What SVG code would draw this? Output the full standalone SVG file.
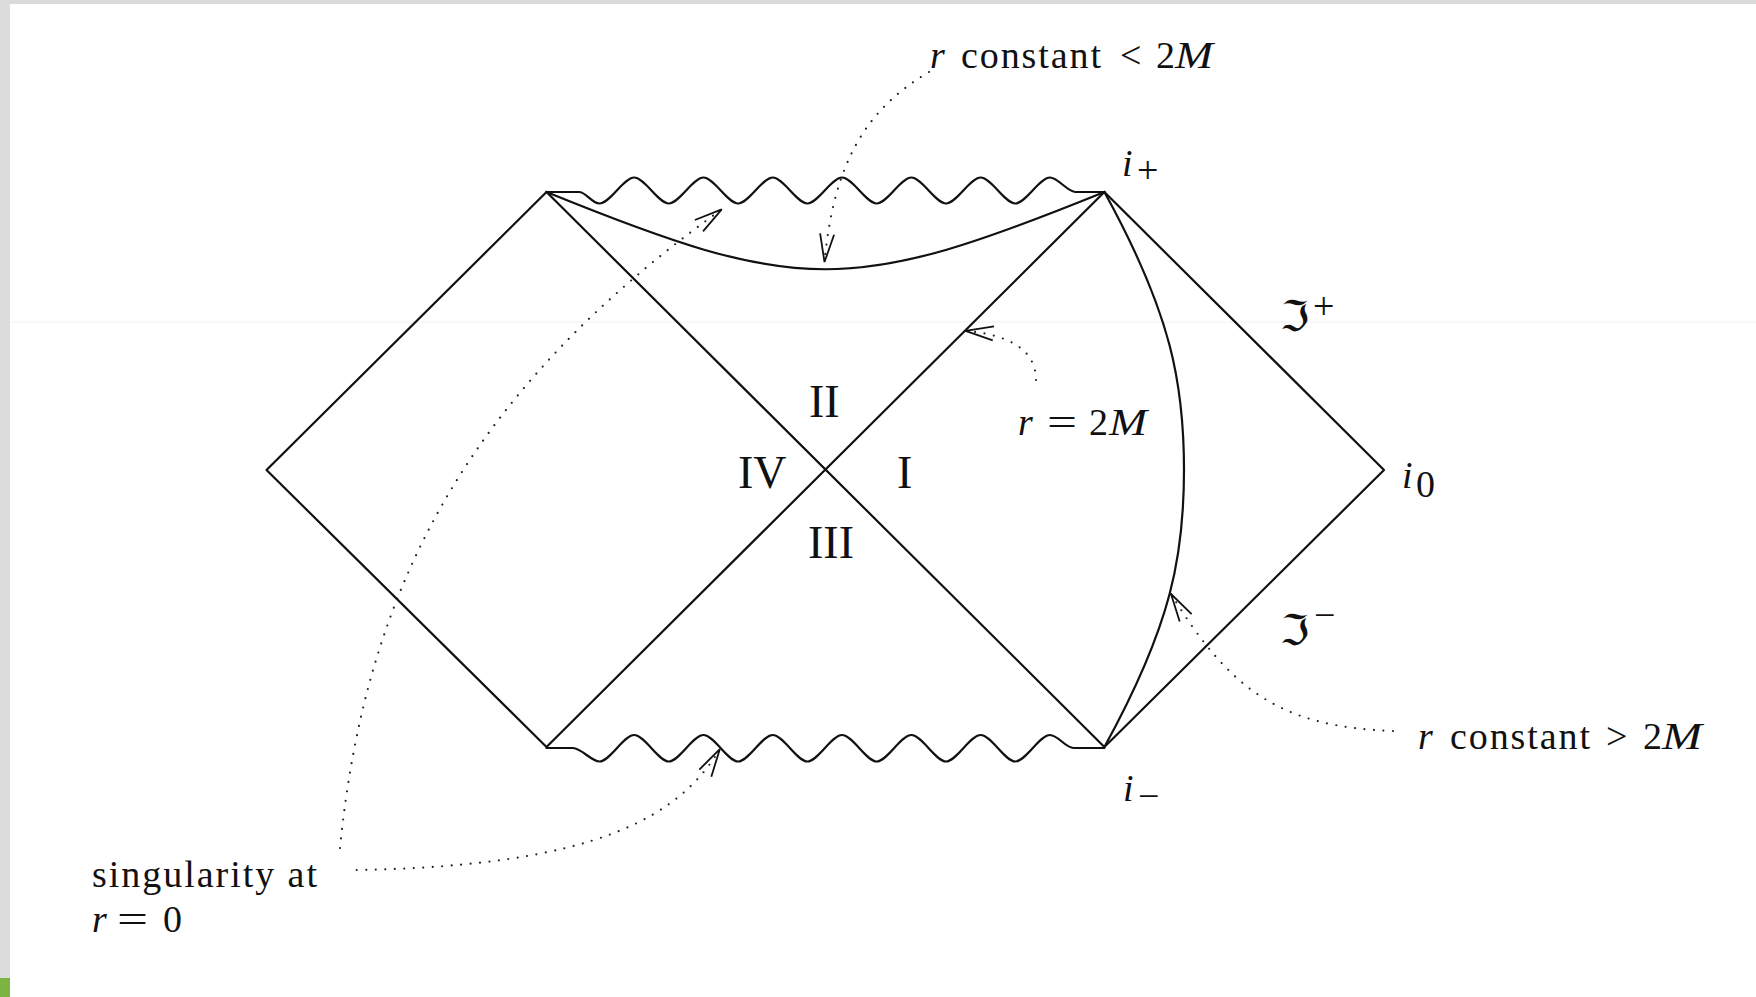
<svg xmlns="http://www.w3.org/2000/svg" width="1756" height="997" viewBox="0 0 1756 997">
<style>
.ln{fill:none;stroke:#111;stroke-width:2.2;stroke-linejoin:round;stroke-linecap:round}
.dot{fill:none;stroke:#222;stroke-width:2.2;stroke-dasharray:0 9.5;stroke-linecap:round}
.t{font-family:"Liberation Serif","Times New Roman",serif;font-size:38px;fill:#111}
.it{font-style:italic}
.big{font-family:"Liberation Serif","Times New Roman",serif;font-size:46px;fill:#111}
.frak{font-family:"DejaVu Serif","DejaVu Sans",serif;font-size:42px;fill:#111}
</style>
<defs>
<marker id="arr" viewBox="-31 -10 34 20" refX="0" refY="0" markerWidth="34" markerHeight="20" markerUnits="userSpaceOnUse" orient="auto">
<path d="M-28,-7 L0,0 L-28,7" fill="none" stroke="#111" stroke-width="1.8" stroke-linejoin="miter"/>
</marker>
</defs>
<rect width="1756" height="997" fill="#fff"/>
<g id="screen-frame">
<rect x="0" y="0" width="1756" height="4" fill="#dadada"/>
<rect x="0" y="0" width="10" height="978" fill="#dcdcdc"/>
<rect x="0" y="978" width="10" height="19" fill="#7cb342"/>
<line x1="10" y1="322" x2="1756" y2="322" stroke="#f0f0f0" stroke-width="1"/>
</g>
<g id="penrose-diagram">
<path class="ln" d="M266.5,470 L546.5,192 M546.5,192 L1104.4,747 M546.5,747 L1104.4,192 M1104.4,192 L1384,470 L1104.4,747 M266.5,470 L546.5,747"/>
<path id="singularity-top" class="ln" d="M546.5,192 H579 c7,0 13,11.5 20.5,11.5 c10.4,0 24.25,-26 34.65,-26 c10.4,0 24.25,26 34.65,26 c10.4,0 24.25,-26 34.65,-26 c10.4,0 24.25,26 34.65,26 c10.4,0 24.25,-26 34.65,-26 c10.4,0 24.25,26 34.65,26 c10.4,0 24.25,-26 34.65,-26 c10.4,0 24.25,26 34.65,26 c10.4,0 24.25,-26 34.65,-26 c10.4,0 24.25,26 34.65,26 c10.4,0 24.25,-26 34.65,-26 c10.4,0 24.25,26 34.65,26 c10.4,0 24.25,-26 34.65,-26 c8,0 17.6,14.5 25.65,14.5 H1104.4"/>
<path id="singularity-bottom" class="ln" d="M546.5,748 H573 c8,0 18.5,13.5 26.5,13.5 c10.4,0 24.25,-26.5 34.65,-26.5 c10.4,0 24.25,26.5 34.65,26.5 c10.4,0 24.25,-26.5 34.65,-26.5 c10.4,0 24.25,26.5 34.65,26.5 c10.4,0 24.25,-26.5 34.65,-26.5 c10.4,0 24.25,26.5 34.65,26.5 c10.4,0 24.25,-26.5 34.65,-26.5 c10.4,0 24.25,26.5 34.65,26.5 c10.4,0 24.25,-26.5 34.65,-26.5 c10.4,0 24.25,26.5 34.65,26.5 c10.4,0 24.25,-26.5 34.65,-26.5 c10.4,0 24.25,26.5 34.65,26.5 c10.4,0 24.25,-26.5 34.65,-26.5 c8,0 15.65,13 23.65,13 H1104.4"/>
<path id="curve-inside" class="ln" d="M546.5,192 C800,295 850.4,295 1104.4,192"/>
<path id="curve-outside" class="ln" d="M1104.4,192 C1172,315 1184,385 1184,470 C1184,555 1172,624 1104.4,747"/>
</g>
<g id="connectors">
<path class="dot" marker-end="url(#arr)" d="M929,72 C868,108 834,160 824.5,262"/>
<path class="dot" marker-end="url(#arr)" d="M340,848 C366,585 470,390 721.7,209.4"/>
<path class="dot" marker-end="url(#arr)" d="M356.7,870 C600,866 680,815 719.8,749.2"/>
<path class="dot" marker-end="url(#arr)" d="M1036,380 C1036,345 1000,334 965.5,330.8"/>
<path class="dot" marker-end="url(#arr)" d="M1393,731 C1280,727 1230,690 1171,594"/>
</g>
<g id="label-r-const-lt">
<text class="t" y="68"><tspan class="it" x="930">r</tspan><tspan x="961" textLength="140">constant</tspan><tspan x="1120">&lt;</tspan><tspan x="1156">2</tspan><tspan class="it" x="1175" textLength="38" lengthAdjust="spacingAndGlyphs">M</tspan></text>
</g>
<g id="label-r-2m">
<text class="t" y="435"><tspan class="it" x="1018">r</tspan><tspan x="1047" textLength="30" lengthAdjust="spacingAndGlyphs">=</tspan><tspan x="1089">2</tspan><tspan class="it" x="1109" textLength="38" lengthAdjust="spacingAndGlyphs">M</tspan></text>
</g>
<g id="label-r-const-gt">
<text class="t" y="749"><tspan class="it" x="1418">r</tspan><tspan x="1450" textLength="140">constant</tspan><tspan x="1606">&gt;</tspan><tspan x="1643">2</tspan><tspan class="it" x="1662" textLength="40" lengthAdjust="spacingAndGlyphs">M</tspan></text>
</g>
<g id="label-singularity">
<text class="t" x="92" y="887" textLength="225">singularity at</text>
<text class="t" y="932"><tspan class="it" x="92">r</tspan><tspan x="117" textLength="31" lengthAdjust="spacingAndGlyphs">=</tspan><tspan x="163">0</tspan></text>
</g>
<g id="label-regions">
<text class="big" x="809" y="417">II</text>
<text class="big" x="738" y="488">IV</text>
<text class="big" x="897" y="488">I</text>
<text class="big" x="808" y="558">III</text>
</g>
<g id="label-i-plus">
<text class="t it" x="1122" y="176" font-size="44">i</text>
<text class="t" x="1137" y="183" font-size="40">+</text>
</g>
<g id="label-i-zero">
<text class="t it" x="1402" y="488" font-size="44">i</text>
<text class="t" x="1416" y="497" font-size="33">0</text>
</g>
<g id="label-i-minus">
<text class="t it" x="1123" y="801" font-size="44">i</text>
<text class="t" x="1138" y="809" font-size="36">−</text>
</g>
<g id="label-scri-plus">
<text class="frak" x="1280" y="331">ℑ</text>
<text class="t" x="1313" y="319" font-size="40">+</text>
</g>
<g id="label-scri-minus">
<text class="frak" x="1280" y="645">ℑ</text>
<text class="t" x="1314" y="628" font-size="36">−</text>
</g>
</svg>
